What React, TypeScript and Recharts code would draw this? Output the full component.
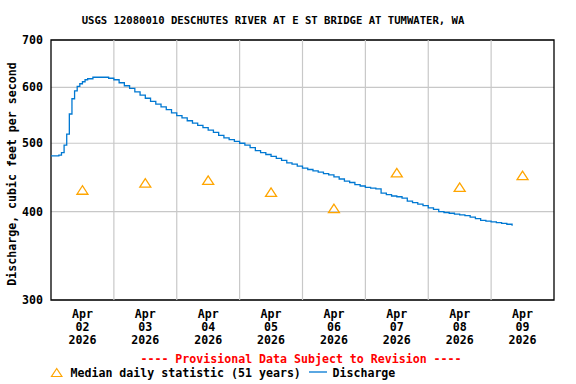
import React from 'react'
import {
  ComposedChart,
  CartesianGrid,
  Line,
  Scatter,
  XAxis,
  YAxis,
  ReferenceArea,
  ReferenceLine,
} from 'recharts'

// hours since Apr 02 2026 00:00
const hours = [
  0, 1, 2, 3, 4, 5, 6, 7, 8, 9, 10, 11, 12, 13, 14, 16, 18, 20, 22, 24,
  26, 28, 30, 32, 34, 36, 38, 40, 42, 44, 46, 48, 50, 52, 54, 56, 58, 60, 62, 64,
  66, 68, 70, 72, 74, 76, 78, 80, 82, 84, 86, 88, 90, 92, 94, 96, 98, 100, 102, 104,
  106, 108, 110, 112, 114, 116, 118, 120, 122, 124, 126, 128, 130, 132, 134, 136, 138, 140, 142, 144,
  146, 148, 150, 152, 154, 156, 158, 160, 162, 164, 166, 168, 170, 172, 174, 176,
]
const cfs = [
  480, 480, 480, 481, 485, 497, 515, 550, 578, 593, 602, 607, 611, 615, 617, 620, 620, 620, 618, 615,
  609, 603, 598, 591, 585, 579, 573, 568, 563, 558, 552, 547, 543, 538, 534, 530, 526, 522, 518, 513,
  509, 506, 503, 500, 497, 493, 488, 485, 482, 479, 476, 473, 469, 467, 464, 461, 459, 457, 455, 453,
  451, 448, 445, 442, 440, 437, 435, 433, 432, 431, 425, 423, 421, 420, 418, 414, 412, 410, 408, 405,
  403, 400, 399, 398, 397, 396, 395, 393, 391, 389, 388, 387, 386, 385, 384, 382,
]

// median daily statistic, plotted at noon of each day
const medianHours = [12, 36, 60, 84, 108, 132, 156, 180]
const medianCfs = [429, 439, 443, 426, 404, 454, 433, 450]

const tickMonth = 'Apr'
const tickDays = ['02', '03', '04', '05', '06', '07', '08', '09']
const tickYear = '2026'
const midnights = [24, 48, 72, 96, 120, 144, 168]
const yTicks = [300, 400, 500, 600, 700]

const discharge = hours.map((t, i) => ({ t, q: cfs[i] }))
const medians = medianHours.map((t, i) => ({ t, m: medianCfs[i] }))

const font = '"DejaVu Sans Mono", "Liberation Mono", monospace'
const orange = '#ffa500'
const blue = '#0078d2'
const gridColor = '#c8c8c8'

const DayTick = (props: any) => {
  const { x, y, payload } = props
  const i = medianHours.indexOf(payload.value)
  return (
    <g fontFamily={font} fontWeight="bold" fontSize={11.6} fill="#000" textAnchor="middle">
      <text x={x} y={y + 18}>{tickMonth}</text>
      <text x={x} y={y + 31}>{tickDays[i]}</text>
      <text x={x} y={y + 44}>{tickYear}</text>
    </g>
  )
}

const Triangle = (props: any) => {
  const { cx, cy } = props
  return (
    <polygon
      points={`${cx},${cy - 4.5} ${cx - 5.5},${cy + 4} ${cx + 5.5},${cy + 4}`}
      fill="none"
      stroke={orange}
      strokeWidth={1.3}
    />
  )
}

export default function App() {
  return (
    <div style={{ position: 'absolute', left: 0, top: 0, width: 576, height: 384, background: '#fff' }}>
      <ComposedChart width={576} height={384} margin={{ top: 40, right: 22, bottom: 0, left: 0 }}>
        <CartesianGrid stroke={gridColor} strokeWidth={1.2} vertical={false} />
        <XAxis
          dataKey="t"
          type="number"
          domain={[0, 192]}
          ticks={medianHours}
          interval={0}
          tick={<DayTick />}
          tickLine={false}
          axisLine={false}
          tickSize={0}
          tickMargin={0}
          height={84}
        />
        <YAxis
          type="number"
          scale="log"
          domain={[300, 700]}
          ticks={yTicks}
          allowDataOverflow
          width={51}
          tickLine={false}
          axisLine={false}
          tick={{ fill: '#000', fontSize: 11.6, fontWeight: 'bold', fontFamily: font }}
        />
        {midnights.map((h) => (
          <ReferenceLine key={h} x={h} stroke={gridColor} strokeWidth={1.2} />
        ))}
        <Line
          data={discharge}
          dataKey="q"
          type="stepAfter"
          stroke={blue}
          strokeWidth={1.3}
          dot={false}
          isAnimationActive={false}
        />
        <Scatter data={medians} dataKey="m" shape={Triangle} isAnimationActive={false} />
        <ReferenceArea x1={0} x2={192} y1={300} y2={700} fill="none" stroke="#000" strokeWidth={1.3} ifOverflow="visible" />
      </ComposedChart>
      <svg
        width={576}
        height={384}
        style={{ position: 'absolute', left: 0, top: 0, pointerEvents: 'none' }}
        fontFamily={font}
        fontWeight="bold"
      >
        <text x={273} y={24} fontSize={10.6} textAnchor="middle" fill="#000">
          USGS 12080010 DESCHUTES RIVER AT E ST BRIDGE AT TUMWATER, WA
        </text>
        <text x={16} y={174} fontSize={11.6} textAnchor="middle" fill="#000" transform="rotate(-90 16 174)">
          Discharge, cubic feet per second
        </text>
        <text x={301} y={363} fontSize={11.6} textAnchor="middle" fill="#ff0000">
          ---- Provisional Data Subject to Revision ----
        </text>
        <polygon points="56.7,368.5 51.5,376.5 61.9,376.5" fill="none" stroke={orange} strokeWidth={1.2} />
        <text x={70.5} y={377} fontSize={11.6} fill="#000">Median daily statistic (51 years)</text>
        <line x1={309} y1={372} x2={327} y2={372} stroke={blue} strokeWidth={1.3} />
        <text x={332.5} y={377} fontSize={11.6} fill="#000">Discharge</text>
      </svg>
    </div>
  )
}
